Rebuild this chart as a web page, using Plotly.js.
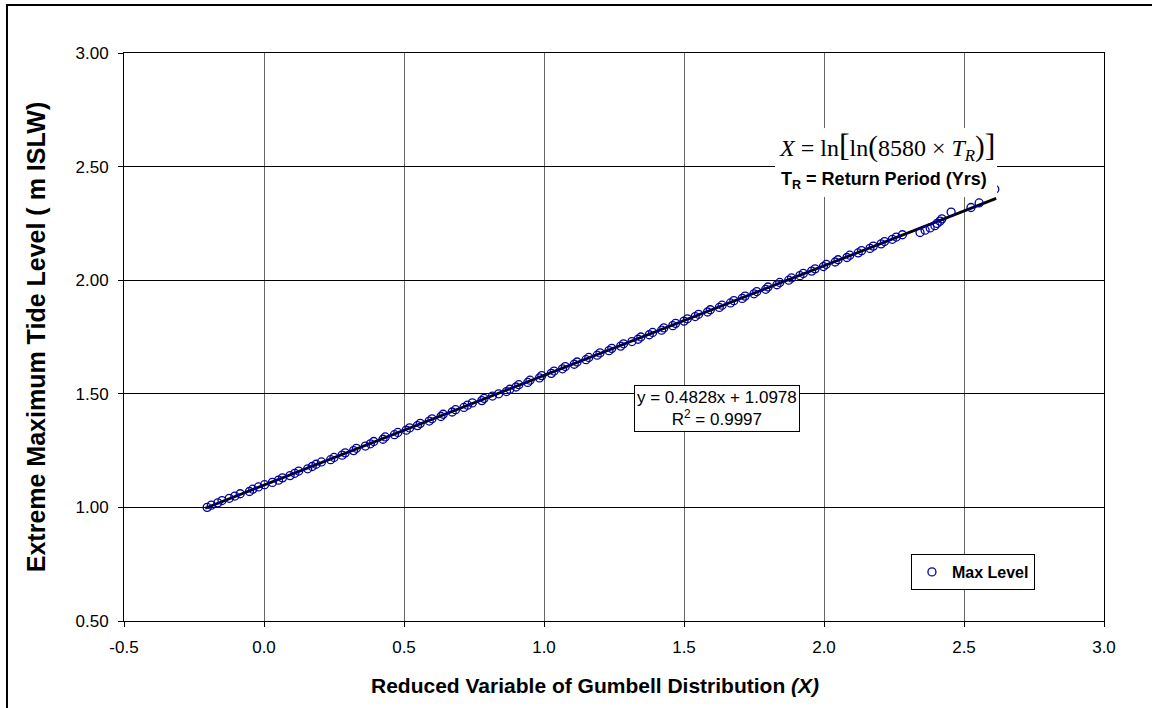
<!DOCTYPE html>
<html>
<head>
<meta charset="utf-8">
<script src="https://cdn.plot.ly/plotly-3.0.1.min.js"></script>
<style>html,body{margin:0;padding:0;background:#fff;}#chart{width:1152px;height:708px;}</style>
</head>
<body>
<div id="chart"></div>
<script>
// Reduced variable X
const reducedX = [
 -0.203,-0.188,-0.165,-0.150,-0.124,-0.104,-0.085,-0.052,-0.040,-0.020,
  0.002, 0.030, 0.052, 0.066, 0.093, 0.110, 0.124, 0.156, 0.172, 0.186,
  0.205, 0.238, 0.250, 0.279, 0.290, 0.320, 0.330, 0.362, 0.380, 0.392,
  0.425, 0.433, 0.466, 0.478, 0.508, 0.520, 0.548, 0.558, 0.590, 0.600,
  0.632, 0.640, 0.672, 0.684, 0.714, 0.727, 0.744, 0.778, 0.786, 0.816,
  0.838, 0.866, 0.878, 0.900, 0.910, 0.942, 0.950, 0.984, 0.992, 1.026,
  1.036, 1.066, 1.076, 1.108, 1.118, 1.150, 1.160, 1.190, 1.200, 1.232,
  1.242, 1.274, 1.284, 1.314, 1.336, 1.346, 1.376, 1.388, 1.420, 1.428,
  1.460, 1.470, 1.500, 1.512, 1.540, 1.552, 1.584, 1.594, 1.626, 1.636,
  1.666, 1.678, 1.708, 1.718, 1.750, 1.760, 1.792, 1.800, 1.832, 1.842,
  1.874, 1.884, 1.914, 1.926, 1.956, 1.968, 1.998, 2.008, 2.040, 2.050,
  2.082, 2.092, 2.122, 2.134, 2.164, 2.176, 2.204, 2.216, 2.244, 2.258,
  2.280, 2.343, 2.361, 2.379, 2.396, 2.404, 2.414, 2.421, 2.454, 2.525,
  2.554, 2.610
];
// Max level (m ISLW)
const maxLevel = [
 1.00,1.01,1.02,1.03,1.04,1.05,1.06,1.07,1.08,1.09,
 1.10,1.11,1.12,1.13,1.14,1.15,1.16,1.17,1.18,1.19,
 1.20,1.21,1.22,1.23,1.24,1.25,1.26,1.27,1.28,1.29,
 1.30,1.31,1.32,1.33,1.34,1.35,1.36,1.37,1.38,1.39,
 1.40,1.41,1.42,1.43,1.44,1.45,1.46,1.47,1.48,1.49,
 1.50,1.51,1.52,1.53,1.54,1.55,1.56,1.57,1.58,1.59,
 1.60,1.61,1.62,1.63,1.64,1.65,1.66,1.67,1.68,1.69,
 1.70,1.71,1.72,1.73,1.74,1.75,1.76,1.77,1.78,1.79,
 1.80,1.81,1.82,1.83,1.84,1.85,1.86,1.87,1.88,1.89,
 1.90,1.91,1.92,1.93,1.94,1.95,1.96,1.97,1.98,1.99,
 2.00,2.01,2.02,2.03,2.04,2.05,2.06,2.07,2.08,2.09,
 2.10,2.11,2.12,2.13,2.14,2.15,2.16,2.17,2.18,2.19,
 2.20,2.21,2.22,2.23,2.24,2.25,2.26,2.27,2.30,2.32,
 2.34,2.40
];
// Linear trendline
const slope = 0.4828;
const intercept = 1.0978;
const rSquared = 0.9997;
const trendX = [-0.21, 2.615];
const trendY = trendX.map(v => slope * v + intercept);

const xTicks = [-0.5, 0.0, 0.5, 1.0, 1.5, 2.0, 2.5, 3.0];
const yTicks = [0.5, 1.0, 1.5, 2.0, 2.5, 3.0];

const AR = 'Liberation Sans, Arial, sans-serif';
const TM = 'Liberation Serif, Times New Roman, serif';

const traces = [
  {
    x: trendX, y: trendY, mode: 'lines', type: 'scatter',
    line: {color: '#000', width: 2.8}, showlegend: false, hoverinfo: 'skip'
  },
  {
    x: reducedX, y: maxLevel, mode: 'markers', type: 'scatter', name: 'Max Level',
    marker: {symbol: 'circle-open', size: 8, color: '#0000a0', line: {width: 1.3, color: '#0000a0'}}
  }
];

const layout = {
  width: 1152, height: 708,
  paper_bgcolor: '#fff', plot_bgcolor: '#fff',
  margin: {l: 124, r: 48, t: 53, b: 87},
  font: {family: AR, size: 17, color: '#000'},
  xaxis: {
    range: [-0.5, 3.0], tickvals: xTicks, ticktext: xTicks.map(v => v.toFixed(1)),
    showgrid: true, gridcolor: '#666', gridwidth: 1,
    showline: true, linecolor: '#000', linewidth: 1, mirror: true,
    ticks: 'outside', ticklen: 5, tickcolor: '#000', zeroline: false,
    tickfont: {family: AR, size: 17}, ticklabelstandoff: 6
  },
  yaxis: {
    range: [0.5, 3.0], tickvals: yTicks, ticktext: yTicks.map(v => v.toFixed(2)),
    showgrid: true, gridcolor: '#000', gridwidth: 1,
    showline: true, linecolor: '#000', linewidth: 1, mirror: true,
    ticks: 'outside', ticklen: 5, tickcolor: '#000', zeroline: false,
    tickfont: {family: AR, size: 17}, ticklabelstandoff: 6,
    title: {text: '<b>Extreme Maximum Tide Level ( m ISLW)</b>', font: {family: AR, size: 25}, standoff: 22}
  },
  legend: {
    x: 0.803, y: 0.118, xanchor: 'left', yanchor: 'top',
    bgcolor: '#fff', bordercolor: '#000', borderwidth: 1,
    font: {family: AR, size: 16, weight: 'bold'}, itemwidth: 30
  },
  shapes: [
    {type: 'rect', xref: 'paper', yref: 'paper', x0: -0.1194, x1: 1.1, y0: -0.3, y1: 1.0845,
     line: {color: '#000', width: 2}, fillcolor: 'rgba(0,0,0,0)', layer: 'below'},
    {type: 'rect', xref: 'x', yref: 'y', x0: 1.825, x1: 2.618, y0: 2.366, y1: 2.67,
     line: {width: 0}, fillcolor: '#fff', layer: 'above'}
  ],
  annotations: [
    {xref: 'paper', yref: 'paper', x: 0.4806, y: -0.1127, xanchor: 'center', yanchor: 'middle', showarrow: false,
     text: '<b>Reduced Variable of Gumbell Distribution <i>(X)</i></b>',
     font: {family: AR, size: 21, color: '#000'}},
    {xref: 'x', yref: 'y', x: 2.225, y: 2.59, showarrow: false,
     text: '<i>X</i> = ln<span style="font-size:32px">[</span>ln<span style="font-size:29px">(</span>8580 × <i>T<sub>R</sub></i><span style="font-size:29px">)</span><span style="font-size:32px">]</span>',
     font: {family: TM, size: 24, color: '#000'}},
    {xref: 'x', yref: 'y', x: 2.214, y: 2.44, showarrow: false,
     text: '<b>T<sub>R</sub> = Return Period (Yrs)</b>',
     font: {family: AR, size: 18, color: '#000'}},
    {xref: 'x', yref: 'y', x: 1.618, y: 1.4375, showarrow: false,
     text: 'y = 0.4828x + 1.0978<br>R<sup>2</sup> = ' + rSquared.toFixed(4),
     font: {family: AR, size: 17, color: '#000'},
     bgcolor: '#fff', bordercolor: '#000', borderwidth: 1, borderpad: 2}
  ]
};

Plotly.newPlot('chart', traces, layout, {displayModeBar: false, staticPlot: true});
</script>
</body>
</html>
